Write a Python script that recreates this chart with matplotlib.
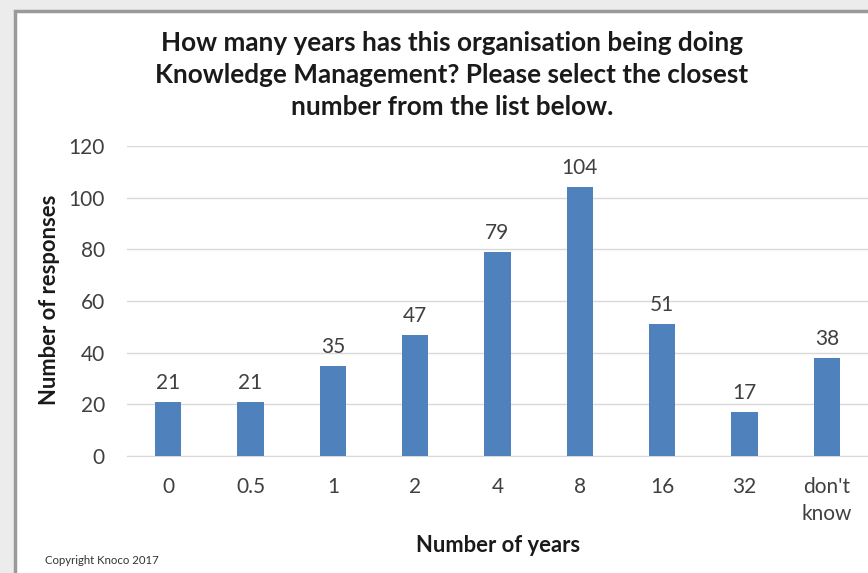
import matplotlib
matplotlib.use("Agg")
import matplotlib.pyplot as plt
from matplotlib.patches import Rectangle

categories = ["0", "0.5", "1", "2", "4", "8", "16", "32", "don't\nknow"]
responses = [21, 21, 35, 47, 79, 104, 51, 17, 38]
y_ticks = [0, 20, 40, 60, 80, 100, 120]

title = ("How many years has this organisation being doing\n"
         "Knowledge Management? Please select the closest\n"
         "number from the list below.")

plt.rcParams["font.family"] = ["Lato", "DejaVu Sans"]

W, H = 868, 573
fig = plt.figure(figsize=(W / 100, H / 100), dpi=100)
fig.patch.set_facecolor("#ececec")

# chart frame (white area with grey border, cut off on the right)
frame = Rectangle((15 / W, -0.05), 1.2, 1 - 11 / H + 0.05, transform=fig.transFigure,
                  facecolor="white", edgecolor="#9a9a9a", linewidth=2.5, zorder=-1)
fig.patches.append(frame)

ax = fig.add_axes([127 / W, 1 - 456 / H, 1 - 127 / W, (456 - 146) / H])
ax.set_facecolor("none")
ax.set_zorder(1)

x = range(len(categories))
bars = ax.bar(x, responses, width=0.32, color="#4f81bd", zorder=3)
for bar, val in zip(bars, responses):
    ax.text(bar.get_x() + bar.get_width() / 2, val + 3.5, str(val),
            ha="center", va="bottom", fontsize=15, color="#404040")

ax.set_xlim(-0.5, 8.5)
ax.set_ylim(0, 120)
ax.set_yticks(y_ticks)
ax.set_xticks(list(x))
ax.set_xticklabels(categories)
ax.grid(axis="y", color="#d9d9d9", linewidth=1, zorder=0)
for s in ["top", "right", "left"]:
    ax.spines[s].set_visible(False)
ax.spines["bottom"].set_color("#d9d9d9")
ax.tick_params(length=0, labelsize=15, labelcolor="#404040")
ax.tick_params(axis="y", pad=16)
ax.tick_params(axis="x", pad=15)
for lbl in ax.get_xticklabels():
    lbl.set_verticalalignment("top")
    lbl.set_linespacing(1.45)

fig.text(50 / W, 1 - 300 / H, "Number of responses", rotation=90, ha="center",
         va="center", fontsize=15.8, fontweight="bold", color="#1a1a1a")
fig.text(498 / W, 1 - 546 / H, "Number of years", ha="center", va="center",
         fontsize=15.8, fontweight="bold", color="#1a1a1a")
fig.text(452 / W, 1 - 75 / H, title, ha="center", va="center", fontsize=18.8,
         fontweight="bold", color="#1a1a1a", linespacing=1.4)
fig.text(45 / W, 1 - 561 / H, "Copyright Knoco 2017", ha="left", va="center",
         fontsize=8.2, color="#333333")

fig.savefig("out.png", dpi=100, facecolor=fig.get_facecolor())
